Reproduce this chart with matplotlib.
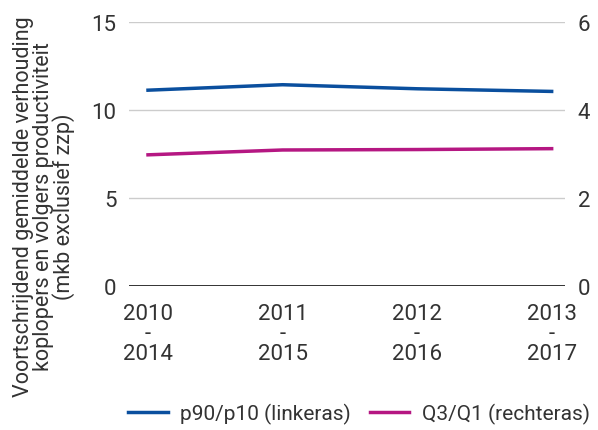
import matplotlib.pyplot as plt

periods = ['2010\n-\n2014', '2011\n-\n2015', '2012\n-\n2016', '2013\n-\n2017']
p90_p10 = [11.12, 11.43, 11.2, 11.05]
q3_q1 = [2.98, 3.09, 3.10, 3.12]

plt.rcParams['font.family'] = ['Roboto', 'DejaVu Sans']
txt = '#333333'

fig = plt.figure(figsize=(5.98, 4.31), dpi=100)
ax = fig.add_axes([0.216, 0.334, 0.729, 0.613])
ax2 = ax.twinx()

x = list(range(len(periods)))
l1, = ax.plot(x, p90_p10, color='#0a4f9e', lw=2.5, label='p90/p10 (linkeras)')
l2, = ax2.plot(x, q3_q1, color='#b51782', lw=2.5, label='Q3/Q1 (rechteras)')

ax.set_ylim(0, 15)
ax.set_yticks([0, 5, 10, 15])
ax2.set_ylim(0, 6)
ax2.set_yticks([0, 2, 4, 6])
ax.set_xlim(-0.14, 3.1)
ax.set_xticks(x)
ax.set_xticklabels(periods, linespacing=0.95)

ax.grid(axis='y', color='#cccccc', lw=1)
ax.axhline(0, color='#222222', lw=2, zorder=3)
for a in (ax, ax2):
    for s in a.spines.values():
        s.set_visible(False)
    a.tick_params(length=0, labelsize=16, colors=txt)
ax.tick_params(axis='y', pad=9)
ax2.tick_params(axis='y', pad=9)
ax.tick_params(axis='x', pad=12)

fig.text(44 / 598, 0.52,
         'Voortschrijdend gemiddelde verhouding\nkoplopers en volgers productiviteit\n(mkb exclusief zzp)',
         rotation=90, ha='center', va='center', multialignment='center',
         fontsize=15.5, color=txt, linespacing=0.9)

fig.legend(handles=[l1, l2], loc='lower center', bbox_to_anchor=(0.6, -0.03), ncol=2,
           frameon=False, fontsize=15, labelcolor=txt, handlelength=1.9, columnspacing=0.9,
           handletextpad=0.6)

fig.savefig('out.png', dpi=100)
